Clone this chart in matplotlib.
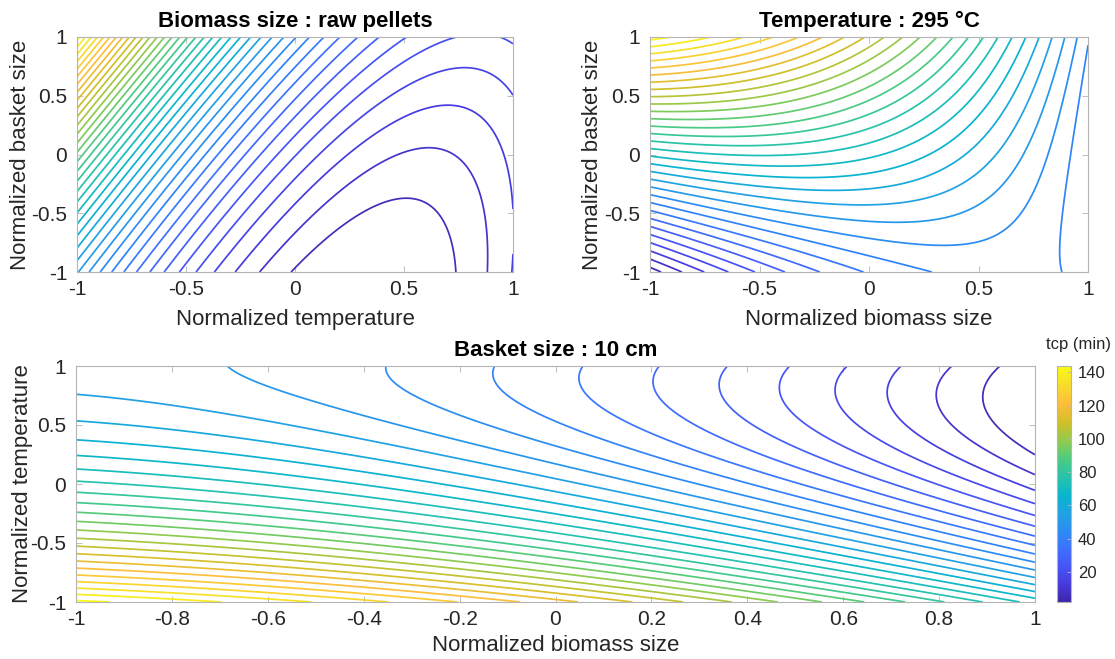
import numpy as np
import matplotlib
matplotlib.use('Agg')
import matplotlib.pyplot as plt
from matplotlib.colors import LinearSegmentedColormap, Normalize
from matplotlib.cm import ScalarMappable

# ---------------- data ----------------
titles = ['Biomass size : raw pellets', 'Temperature : 295 °C', 'Basket size : 10 cm']
xlabels = ['Normalized temperature', 'Normalized biomass size', 'Normalized biomass size']
ylabels = ['Normalized basket size', 'Normalized basket size', 'Normalized temperature']
ticks_small = [-1, -0.5, 0, 0.5, 1]
ticks_wide = [-1, -0.8, -0.6, -0.4, -0.2, 0, 0.2, 0.4, 0.6, 0.8, 1]
cbar_ticks = [20, 40, 60, 80, 100, 120, 140]
cbar_label = 'tcp (min)'

# panel 1 (x = temperature, y = basket size), K' = K + 1
p1_curv = [7.7, 1.25]            # curvature along T : c0 + c1*K'
p1_valley = [0.36, 0.24]         # valley position T*(K') = t0 + t1*K'
p1_floor = [-0.1, 1.408, 0.546]  # valley floor h(K') = h0 + h1*K' + h2*K'^2
p1_levels = [1.0, 1.0]           # first level, step

# panel 2 (x = biomass size, y = basket size): quadratic [c0, cB, cK, cBB, cKK, cBK]
p2_coef = [77.26, -15.66, 34.99, -15.76, 3.223, -34.07]
p2_levels = [49.48, 4.46]        # reference level, step

# panel 3 (x = biomass size, y = temperature, tcp in min):
# [c0, cB, cT, cBB, cTT, cBT, cBTT]
p3_coef = [55.89, -32.51, -40.025, -11.01, 22.005, 6.055, 1.635]
p3_levels = [5.4, 4.43]          # first level, step
p3_clim = [2.0, 143.8]           # colour range (min)

# parula colormap anchors (index out of 64)
parula_pos = [0, 5, 9, 14, 18, 23, 28, 33, 38, 43, 48, 53, 58, 63]
parula_rgb = [(0.2422, 0.1504, 0.6603), (0.2751, 0.2342, 0.8710), (0.2810, 0.3228, 0.9579),
              (0.2440, 0.4358, 0.9988), (0.1786, 0.5289, 0.9682), (0.1380, 0.6276, 0.8973),
              (0.0297, 0.7082, 0.8163), (0.1408, 0.7584, 0.6842), (0.2906, 0.7973, 0.5188),
              (0.5616, 0.7942, 0.3045), (0.8203, 0.7498, 0.1535), (0.9956, 0.7434, 0.2371),
              (0.9676, 0.8639, 0.1643), (0.9769, 0.9839, 0.0805)]
parula = LinearSegmentedColormap.from_list(
    'parula', [(p / 63.0, c) for p, c in zip(parula_pos, parula_rgb)], N=256)

# ---------------- surfaces ----------------
g = np.linspace(-1, 1, 401)
X, Y = np.meshgrid(g, g)


def surf1(T, K):
    Kp = K + 1
    c = p1_curv[0] + p1_curv[1] * Kp
    ts = p1_valley[0] + p1_valley[1] * Kp
    h = p1_floor[0] + p1_floor[1] * Kp + p1_floor[2] * Kp ** 2
    return c * (T - ts) ** 2 + h


def quad(c, x, y):
    z = c[0] + c[1] * x + c[2] * y + c[3] * x ** 2 + c[4] * y ** 2 + c[5] * x * y
    if len(c) > 6:
        z = z + c[6] * x * y ** 2
    return z


def step_levels(Z, start, step, floor=None):
    lo = np.ceil((Z.min() - start) / step)
    hi = np.floor((Z.max() - start) / step)
    if floor is not None:
        lo = max(lo, floor)
    return start + step * np.arange(lo, hi + 1)


Z1 = surf1(X, Y)
Z2 = quad(p2_coef, X, Y)
Z3 = quad(p3_coef, X, Y)
L1 = step_levels(Z1, *p1_levels, floor=0)
L2 = step_levels(Z2, *p2_levels)
L3 = step_levels(Z3, *p3_levels, floor=0)
norms = [Normalize(Z1.min(), Z1.max()), Normalize(Z2.min(), Z2.max()),
         Normalize(*p3_clim)]

# ---------------- figure ----------------
plt.rcParams['font.family'] = ['Liberation Sans', 'DejaVu Sans']
plt.rcParams['axes.unicode_minus'] = False
W, H = 1115, 659
fig = plt.figure(figsize=(W / 100, H / 100), dpi=100)


def box(l, t, r, b):
    return [l / W, 1 - b / H, (r - l) / W, (b - t) / H]


axes = [fig.add_axes(box(77, 37, 513, 272)),
        fig.add_axes(box(650, 37, 1088, 272)),
        fig.add_axes(box(76, 366, 1035, 602))]
Zs = [Z1, Z2, Z3]
Ls = [L1, L2, L3]
xt = [ticks_small, ticks_small, ticks_wide]
ylab_x = [-0.130, -0.132, -0.056]
xlab_y = [-0.204, -0.204, -0.186]

spine_c = '#b4b4b4'
text_c = '#262626'
for i, ax in enumerate(axes):
    ax.contour(X, Y, Zs[i], levels=Ls[i], cmap=parula, norm=norms[i],
               linewidths=1.25)
    ax.set_xlim(-1, 1)
    ax.set_ylim(-1, 1)
    ax.set_xticks(xt[i])
    ax.set_yticks(ticks_small)
    ax.set_xticklabels(['%g' % v for v in xt[i]])
    ax.set_yticklabels(['%g' % v for v in ticks_small])
    ax.tick_params(direction='in', length=4, width=0.6, color=spine_c,
                   labelsize=15, labelcolor=text_c, top=True, right=True)
    ax.tick_params(axis='x', pad=6)
    ax.tick_params(axis='y', pad=7)
    for s in ax.spines.values():
        s.set_color(spine_c)
        s.set_linewidth(0.8)
    ax.set_title(titles[i], fontsize=16, fontweight='bold', color='black', pad=7)
    ax.set_xlabel(xlabels[i], fontsize=16, color=text_c, va='center')
    ax.set_ylabel(ylabels[i], fontsize=16, color=text_c, va='center')
    ax.xaxis.set_label_coords(0.5, xlab_y[i])
    ax.yaxis.set_label_coords(ylab_x[i], 0.5)

# colorbar for the bottom panel
cax = fig.add_axes(box(1057, 366, 1071, 602))
sm = ScalarMappable(norm=norms[2], cmap=parula)
cb = fig.colorbar(sm, cax=cax, ticks=cbar_ticks)
cb.outline.set_edgecolor(spine_c)
cb.outline.set_linewidth(0.8)
cax.tick_params(direction='in', length=3, width=0.6, color=spine_c,
                labelsize=12, labelcolor=text_c, pad=5)
fig.text(1079 / W, 1 - 345 / H, cbar_label, ha='center', va='center',
         fontsize=12, color=text_c)

fig.savefig('out.png', dpi=100)
